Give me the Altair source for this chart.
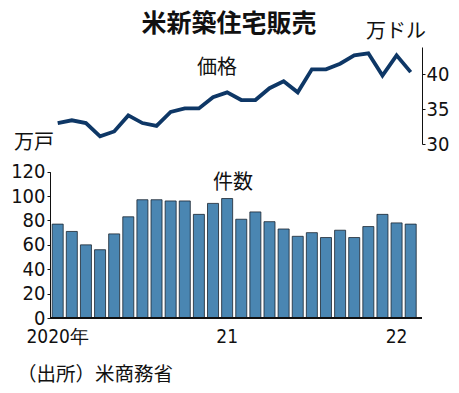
import altair as alt
import pandas as pd

months = [f"{y}-{m:02d}" for y in (2020, 2021) for m in range(1, 13)] + ["2022-01", "2022-02"]
sales = [77, 71, 60, 56, 69, 83, 97, 97, 96, 96, 85, 94,
         98, 81, 87, 79, 73, 67, 70, 66, 72, 66, 75, 85, 78, 77]
price = [33.0, 33.4, 33.0, 31.1, 31.8, 34.1, 33.0, 32.6, 34.6, 35.1, 35.1, 36.7,
         37.4, 36.3, 36.3, 38.0, 39.0, 37.4, 40.7, 40.7, 41.5, 42.7, 43.0, 39.8, 42.7, 40.3]
tick_months = ["2020-01", "2021-01", "2022-01"]
tick_labels = ["2020年", "21", "22"]

df = pd.DataFrame({"month": months, "sales": sales, "price": price})

W, H = 372, 271
NUM = "Liberation Sans Narrow, DejaVu Sans Condensed, Liberation Sans, sans-serif"
JP = "Noto Sans CJK JP"

label_map = "{" + ",".join(f"'{m}':'{l}'" for m, l in zip(tick_months, tick_labels)) + "}"

xscale = alt.Scale(paddingInner=0.22, paddingOuter=0.155, range=[0, 368.4])
xaxis = alt.Axis(values=tick_months, labelExpr=f"{label_map}[datum.value]",
                 labelAngle=0, domain=False, ticks=False, title=None,
                 labelFont=NUM, labelFontSize=19, labelColor="#111",
                 labelPadding=9, labelFlush=False)
xenc = alt.X("month:N", sort=months, scale=xscale, axis=xaxis)

bars = alt.Chart(df).mark_bar(color="#4a86b2", stroke="#1b2530", strokeWidth=0.8).encode(
    x=xenc,
    y=alt.Y("sales:Q", scale=alt.Scale(domain=[0, 120], range=[H, 124.7], nice=False, zero=True),
            axis=alt.Axis(orient="left", values=[0, 20, 40, 60, 80, 100, 120], title=None,
                          grid=False, tickSize=3, labelPadding=2, domainColor="#111",
                          tickColor="#111", labelFont=NUM, labelFontSize=20,
                          labelColor="#111", labelBaseline="middle")),
)

line = alt.Chart(df).mark_line(color="#0e3766", strokeWidth=3.8, strokeJoin="miter").encode(
    x=xenc,
    y=alt.Y("price:Q", scale=alt.Scale(domain=[30, 43.9], range=[97, 0], nice=False, zero=False),
            axis=alt.Axis(orient="right", values=[30, 35, 40], title=None, grid=False,
                          tickSize=3, labelPadding=1, domainColor="#111", tickColor="#111",
                          labelFont=NUM, labelFontSize=20, labelColor="#111",
                          labelBaseline="middle")),
)

baseline = alt.Chart(df).mark_rule(color="#111", strokeWidth=1).encode(
    x=alt.value(0), x2=alt.value(W), y=alt.value(H))


def txt(t, x, y, size, weight="normal", align="center"):
    return alt.Chart(pd.DataFrame({"t": [t]})).mark_text(
        font=JP, fontSize=size, fontWeight=weight, align=align, baseline="middle",
        color="#111").encode(text="t:N", x=alt.value(x), y=alt.value(y))

ox, oy = 50, 47
annotations = [
    txt("米新築住宅販売", 229 - ox, 24 - oy, 25, "bold"),
    txt("万ドル", 396 - ox, 32 - oy, 20),
    txt("価格", 217 - ox, 68 - oy, 20),
    txt("万戸", 34 - ox, 143 - oy, 20),
    txt("件数", 233 - ox, 183 - oy, 20),
    txt("（出所）米商務省", 17 - ox, 375 - oy, 19.5, align="left"),
]

chart = alt.layer(bars, line, baseline, *annotations).resolve_scale(y="independent").properties(
    width=W, height=H,
    autosize=alt.AutoSizeParams(type="none"),
    padding={"left": ox - 8, "top": oy - 8, "right": 459 - 16 - (ox - 8) - W, "bottom": 393 - 16 - (oy - 8) - H},
    background="white",
).configure_view(stroke=None)

chart.save("out.html", embed_options={"renderer": "svg", "actions": False})
